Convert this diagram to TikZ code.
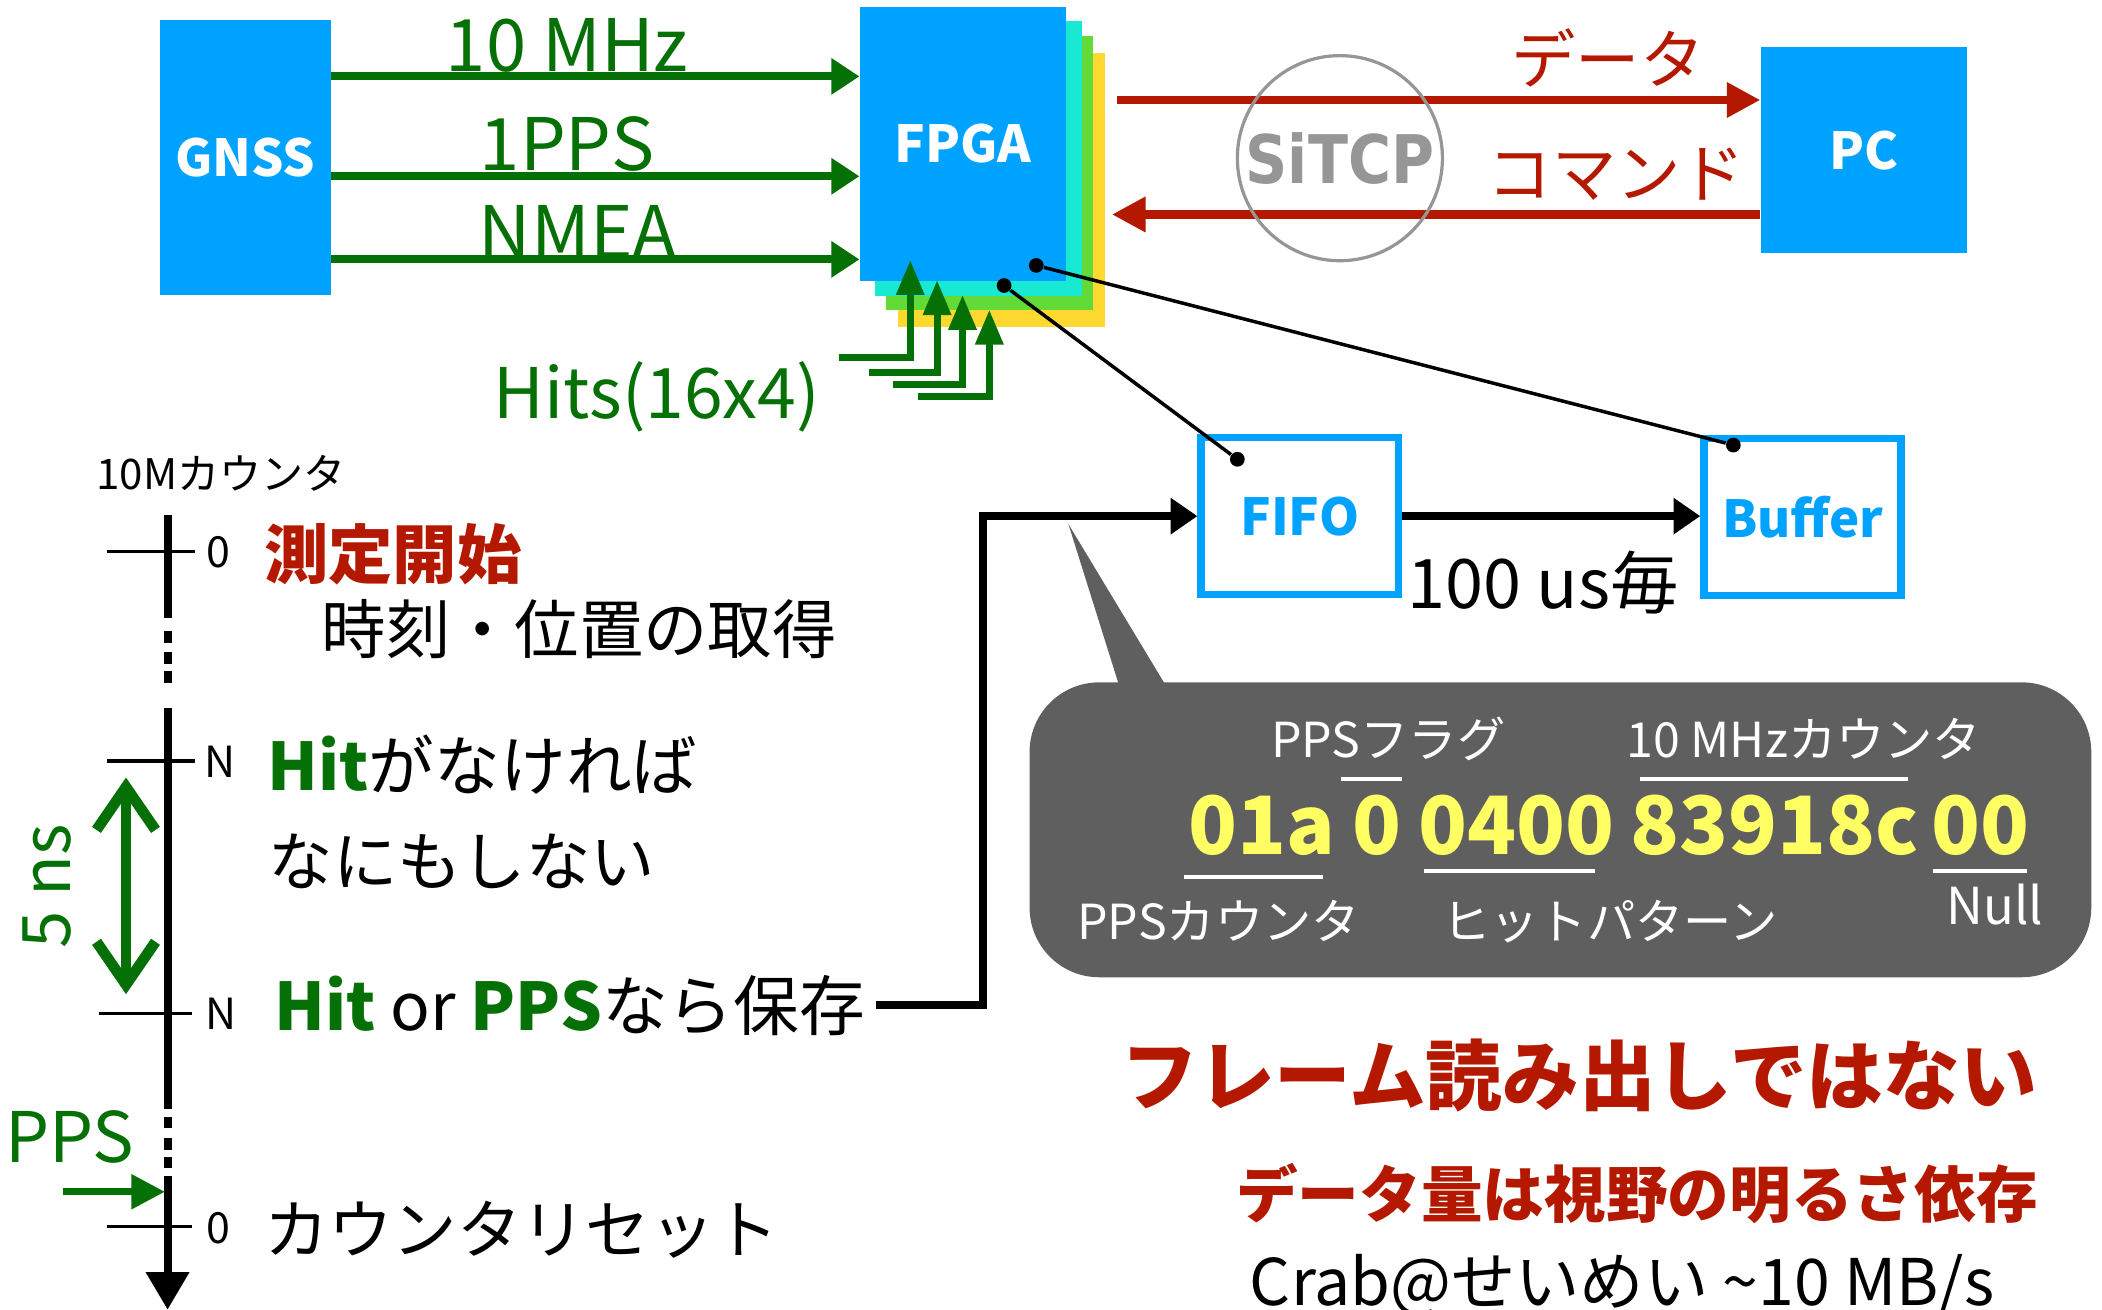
\documentclass[tikz,border=0pt]{standalone}
\usepackage{fontspec}
\setmainfont{Noto Sans CJK JP}
\newfontfamily\tcpfont{DejaVu Sans}
\usetikzlibrary{arrows.meta}
\definecolor{boxblue}{RGB}{0,162,255}
\definecolor{sigreen}{RGB}{5,112,5}
\definecolor{datred}{RGB}{180,25,0}
\definecolor{layercyan}{RGB}{25,232,210}
\definecolor{layergreen}{RGB}{98,218,56}
\definecolor{layeryellow}{RGB}{255,216,48}
\definecolor{ringgray}{RGB}{150,150,150}
\definecolor{balloon}{RGB}{95,95,95}
\definecolor{hexyellow}{RGB}{255,255,100}
\newcommand{\fsz}[1]{\fontsize{#1}{#1}\selectfont}

\begin{document}
\begin{tikzpicture}[x=0.5pt, y=-0.5pt,
	box/.style={fill=boxblue, text=white, inner sep=0pt, font=\bfseries\fsz{19}},
	lbl/.style={inner sep=0pt},
	sig/.style={sigreen, line width=3pt, -{Triangle[length=10.5pt, width=13pt]}},
	hit/.style={sigreen, line width=2.6pt, -{Triangle[length=13pt, width=10pt]}},
	dat/.style={datred, line width=3pt, -{Triangle[length=12.5pt, width=12.5pt]}},
	flow/.style={black, line width=3pt, -{Triangle[length=10pt, width=13pt]}},
	reg/.style={draw=boxblue, line width=2.75pt, fill=white, text=boxblue, inner sep=0pt,
		font=\bfseries\fsz{19}, minimum width=73.5pt, minimum height=58.5pt},
	jdot/.style={circle, fill=black, inner sep=0pt, minimum size=5.5pt},
	tk/.style={line width=1.2pt},
	tline/.style={line width=3pt},
	brk/.style={white, line width=1.5pt}]
	\useasboundingbox (0,0) rectangle (1568,977);

	% FPGA stack
	\fill[layeryellow] (670,39.5) rectangle (824,244);
	\fill[layergreen] (661,27) rectangle (815,231);
	\fill[layercyan] (653,16) rectangle (807,221);

	\node[box, minimum width=64pt, minimum height=102.5pt] (gnss) at (183,117.5) {GNSS};
	\node[box, minimum width=76.75pt, minimum height=102.25pt] (fpga) at (718.25,107.25) {FPGA};
	\node[box, minimum width=76.75pt, minimum height=77pt] (pc) at (1390.25,112) {PC};

	% GNSS -> FPGA
	\coordinate (clk) at (247,57);
	\coordinate (pps) at (247,131.5);
	\coordinate (nmea) at (247,193.5);
	\draw[sig] (clk) -- (clk -| fpga.west);
	\draw[sig] (pps) -- (pps -| fpga.west);
	\draw[sig] (nmea) -- (nmea -| fpga.west);
	\node[lbl, sigreen, font=\fsz{27}] (clklbl) at (423,34) {10 MHz};
	\node[lbl, sigreen, font=\fsz{27}] (ppslbl) at (423,107.5) {1PPS};
	\node[lbl, sigreen, font=\fsz{27}] (nmealbl) at (431,173) {NMEA};

	% hits
	\foreach \k/\xl/\yl/\xv/\yt in {1/626/267/679/194, 2/648/278/699/209, 3/666/287/718/220, 4/685/296/738/231}{
		\coordinate (hin\k) at (\xl,\yl);
		\coordinate (hout\k) at (\xv,\yt);
		\draw[hit] (hin\k) -| (hout\k);
	}
	\node[lbl, sigreen, font=\fsz{26}] (hitlbl) at (490,296) {Hits(16x4)};

	% FPGA <-> PC
	\coordinate (datsrc) at (833,74.6);
	\coordinate (cmddst) at (829.5,160);
	\draw[dat] (datsrc) -- (datsrc -| pc.west);
	\draw[dat] (cmddst -| pc.west) -- (cmddst);
	\node[lbl, datred, font=\fsz{24}] (datlbl) at (1199.5,43.3) {データ};
	\node[lbl, datred, font=\fsz{24}] (cmdlbl) at (1205.8,130) {コマンド};
	\node[circle, draw=ringgray, line width=1.2pt, minimum size=76.5pt, inner sep=0pt,
		text=ringgray, font=\tcpfont\bfseries\fsz{25}] (sitcp) at (999.5,118) {\scalebox{0.875}[1]{SiTCP}};

	% timeline
	\node[lbl, font=\fsz{15.7}] (cntlbl) at (165,353) {10Mカウンタ};
	\draw[tline] (125,384) -- (125,461);
	\foreach \y in {471,486,500.6}
		\draw[tline] (125,\y) -- (125,\y+9);
	\draw[tline] (125,528) -- (125,827);
	\foreach \y in {833,849,863}
		\draw[tline] (125,\y) -- (125,\y+8.5);
	\draw[tline, -{Triangle[length=14pt, width=15.5pt]}] (125,877) -- (125,977);
	\foreach \y/\l/\r in {411.6/80/145.6, 567.7/80/145.6, 756/73.6/143.5, 915/80/143.5}
		\draw[tk] (\l,\y) -- (\r,\y);
	\node[lbl, font=\fsz{16}] (tzero) at (163,411.8) {0};
	\node[lbl, font=\fsz{16}] (tn) at (164,568) {N};
	\node[lbl, font=\fsz{16}] (tnn) at (165,756) {N};
	\node[lbl, font=\fsz{16}] (treset) at (163,916) {0};

	\node[lbl, datred, font=\bfseries\fsz{24}] (start) at (293,413.3) {測定開始};
	\node[lbl, font=\fsz{24}] (fix) at (432,469) {時刻・位置の取得};
	\node[lbl, font=\fsz{24.5}] (nohit) at (360,570.5) {\textcolor{sigreen}{\bfseries Hit}がなければ};
	\node[lbl, font=\fsz{24}] (idle) at (344.5,642.5) {なにもしない};
	\node[lbl, inner xsep=4pt, font=\fsz{24.5}] (save) at (425,750)
		{\textcolor{sigreen}{\bfseries Hit} or \textcolor{sigreen}{\bfseries PPS}なら保存};
	\node[lbl, font=\fsz{24}] (reset) at (389,917) {カウンタリセット};

	% 5 ns span
	\node[lbl, sigreen, rotate=90, font=\fsz{25}] (span) at (35,661) {5 ns};
	\coordinate (spantop) at (94,580);
	\coordinate (spanbot) at (94,741.6);
	\draw[sigreen, line width=4pt, {Straight Barb[length=16pt, width=22pt]}-{Straight Barb[length=16pt, width=22pt]}] (spantop) -- (spanbot);

	% PPS in
	\node[lbl, sigreen, font=\fsz{26}] (ppsin) at (52,848) {PPS};
	\coordinate (ppsfrom) at (47,889);
	\coordinate (ppsto) at (123,889);
	\draw[sigreen, line width=2.5pt, -{Triangle[length=12.5pt, width=12.5pt]}] (ppsfrom) -- (ppsto);

	% FIFO / Buffer
	\node[reg] (fifo) at (969.5,385) {FIFO};
	\node[reg] (buffer) at (1344.6,385.75) {Buffer};
	\draw[flow] (fifo.east) -- (fifo.east -| buffer.west);
	\node[lbl, font=\fsz{25.5}] (period) at (1151,434.5) {100 us毎};
	\coordinate (turn) at (733,385);
	\draw[flow] (save.east) -| (turn) -- (fifo.west);

	\node[jdot] (fpgadot1) at (749,213) {};
	\node[jdot] (fpgadot2) at (773,198) {};
	\node[jdot] (fifodot) at (923,342.6) {};
	\node[jdot] (bufdot) at (1293,332) {};
	\draw[line width=1.3pt] (fpgadot1) -- (fifodot);
	\draw[line width=1.3pt] (fpgadot2) -- (bufdot);

	% word layout balloon
	\fill[balloon, rounded corners=26pt] (768,509) rectangle (1560,729);
	\fill[balloon] (835,512) -- (797,391) -- (870,512) -- cycle;
	\node[lbl, white, font=\fsz{18}] (flaglbl) at (1035.5,551.5) {PPSフラグ};
	\node[lbl, white, font=\fsz{18}] (clkcntlbl) at (1345.5,551.5) {10 MHzカウンタ};
	\node[lbl, white, font=\fsz{18}] (ppscntlbl) at (909,687) {PPSカウンタ};
	\node[lbl, white, font=\fsz{18}] (hitpatlbl) at (1201,687.5) {ヒットパターン};
	\node[lbl, white, font=\fsz{19}] (nulllbl) at (1488,674.5) {Null};
	\foreach \n/\x/\t in {a/941.5/01a, b/1027/0, c/1131/0400, d/1323.5/83918c, e/1477.7/00}
		\node[lbl, hexyellow, font=\bfseries\fsz{30}] (hex\n) at (\x,616) {\t};
	\draw[brk] (1000,581) -- (1046,581);
	\draw[brk] (1223.5,581) -- (1423,581);
	\draw[brk] (883,654) -- (987,654);
	\draw[brk] (1062,649.5) -- (1190,649.5);
	\draw[brk] (1441.6,649.5) -- (1512.4,649.5);

	% notes
	\node[lbl, datred, font=\bfseries\fsz{28.6}] (noframe) at (1178,802) {フレーム読み出しではない};
	\node[lbl, datred, font=\bfseries\fsz{23}] (rate) at (1221,890.5) {データ量は視野の明るさ依存};
	\node[lbl, anchor=base west, font=\fsz{24}] (crab) at (932,973.5) {Crab@せいめい \textasciitilde10 MB/s};
\end{tikzpicture}
\end{document}
